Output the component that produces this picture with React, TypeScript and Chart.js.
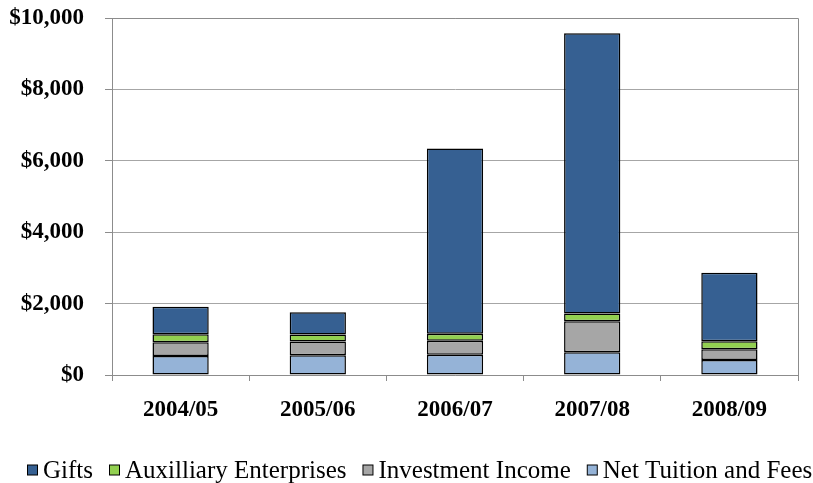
import React, { useEffect, useRef } from "react";
import { Chart, registerables } from "chart.js";

Chart.register(...registerables);

const categories = ["2004/05", "2005/06", "2006/07", "2007/08", "2008/09"];
const netTuition = [530, 550, 570, 635, 420];
const investmentIncome = [385, 390, 390, 870, 300];
const auxiliary = [225, 195, 195, 215, 225];
const gifts = [775, 625, 5190, 7855, 1920];

const serif = "'Liberation Serif', 'Times New Roman', serif";

const boxPlugin = {
  id: "plotBox",
  afterDatasetsDraw(chart: any) {
    const { ctx, chartArea } = chart;
    ctx.save();
    ctx.strokeStyle = "#8c8c8c";
    ctx.lineWidth = 1;
    ctx.beginPath();
    ctx.moveTo(chartArea.left, chartArea.top + 0.5);
    ctx.lineTo(chartArea.right + 0.5, chartArea.top + 0.5);
    ctx.lineTo(chartArea.right + 0.5, chartArea.bottom);
    ctx.stroke();
    ctx.restore();
  },
};

const legendPlugin = {
  id: "customLegend",
  afterDraw(chart: any) {
    const { ctx } = chart;
    const items = chart.data.datasets.slice().reverse();
    ctx.save();
    ctx.font = `25px ${serif}`;
    ctx.textBaseline = "middle";
    ctx.textAlign = "left";
    let x = 27;
    const y = 470;
    const box = 11;
    for (const ds of items) {
      ctx.fillStyle = ds.backgroundColor;
      ctx.fillRect(x + 0.5, y - box / 2 + 0.5, box - 1, box - 1);
      ctx.strokeStyle = "#000";
      ctx.lineWidth = 1;
      ctx.strokeRect(x + 0.5, y - box / 2 + 0.5, box - 1, box - 1);
      x += box + 5;
      ctx.fillStyle = "#000";
      ctx.fillText(ds.label, x, y + 1);
      x += ctx.measureText(ds.label).width + 16;
    }
    ctx.restore();
  },
};

export default function App() {
  const ref = useRef<HTMLCanvasElement>(null);
  useEffect(() => {
    if (!ref.current) return;
    const common = { borderColor: "#000", borderWidth: 1.5, borderSkipped: false as const };
    const chart = new Chart(ref.current, {
      type: "bar",
      data: {
        labels: categories,
        datasets: [
          { label: "Net Tuition and Fees", data: netTuition, backgroundColor: "#95B3D7", ...common },
          { label: "Investment Income", data: investmentIncome, backgroundColor: "#A6A6A6", ...common },
          { label: "Auxilliary Enterprises", data: auxiliary, backgroundColor: "#92D050", ...common },
          { label: "Gifts", data: gifts, backgroundColor: "#366092", ...common },
        ],
      },
      options: {
        animation: false,
        responsive: true,
        maintainAspectRatio: false,
        layout: { padding: { top: 18, right: 15, left: 0, bottom: 42 } },
        datasets: { bar: { barPercentage: 0.41, categoryPercentage: 1 } },
        plugins: {
          tooltip: { enabled: false },
          legend: { display: false },
        },
        scales: {
          x: {
            stacked: true,
            afterFit: (s: any) => {
              s.height = 66;
              s.paddingLeft = 0;
              s.paddingRight = 0;
            },
            border: { color: "#8c8c8c" },
            grid: { display: true, drawOnChartArea: false, drawTicks: true, tickLength: 6, color: "#8c8c8c", offset: true },
            ticks: { color: "#000", padding: 15, font: { family: serif, size: 23, weight: "bold" } },
          },
          y: {
            stacked: true,
            min: 0,
            max: 10000,
            afterFit: (s: any) => {
              s.width = 112;
              s.paddingTop = 0;
              s.paddingBottom = 0;
            },
            border: { color: "#8c8c8c" },
            grid: { color: "#a6a6a6", tickLength: 7, tickColor: "#8c8c8c" },
            ticks: {
              stepSize: 2000,
              color: "#000",
              padding: 21,
              font: { family: serif, size: 23, weight: "bold" },
              callback: (v: any) => "$" + Number(v).toLocaleString("en-US"),
            },
          },
        },
      },
      plugins: [boxPlugin, legendPlugin],
    });
    return () => chart.destroy();
  }, []);
  return (
    <div style={{ position: "fixed", left: 0, top: 0, width: 813, height: 483, overflow: "hidden", background: "#fff" }}>
      <div style={{ position: "relative", width: 813, height: 483 }}>
        <canvas ref={ref} />
      </div>
    </div>
  );
}
